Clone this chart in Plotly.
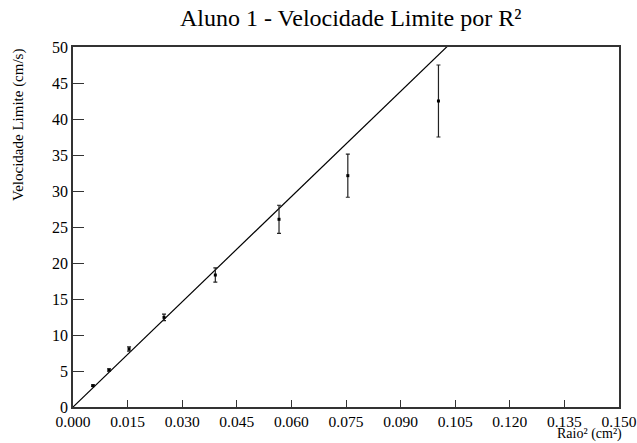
import plotly.graph_objects as go

# Data
raio2 = [0.0055, 0.0099, 0.0154, 0.0250, 0.0391, 0.0566, 0.0755, 0.1004]
velocidade = [2.96, 5.14, 8.06, 12.45, 18.33, 26.07, 32.13, 42.5]
erro = [0.1, 0.15, 0.3, 0.45, 1.0, 1.95, 3.0, 5.0]

# fitted line through origin
fit_slope = 487.1
fit_x = [0.0, 0.15]
fit_y = [fit_slope * v for v in fit_x]

x_ticks = [0.000, 0.015, 0.030, 0.045, 0.060, 0.075, 0.090, 0.105, 0.120, 0.135, 0.150]
x_ticklabels = ["%.3f" % v for v in x_ticks]
y_ticks = [0, 5, 10, 15, 20, 25, 30, 35, 40, 45, 50]

font_family = "Liberation Serif, Times New Roman, serif"

fig = go.Figure()
fig.add_trace(go.Scatter(
    x=fit_x, y=fit_y, mode="lines",
    line=dict(color="black", width=1.2), showlegend=False, hoverinfo="skip"))
fig.add_trace(go.Scatter(
    x=raio2, y=velocidade, mode="markers",
    marker=dict(symbol="square", size=3, color="black"),
    error_y=dict(type="data", array=erro, visible=True, color="#222222",
                 thickness=1.2, width=2),
    showlegend=False))

fig.update_layout(
    width=637, height=443,
    margin=dict(l=73, r=18, t=47, b=36, autoexpand=False),
    paper_bgcolor="white", plot_bgcolor="white",
    font=dict(family=font_family, color="black"),
    showlegend=False,
)
fig.update_xaxes(
    range=[0, 0.15], tickvals=x_ticks, ticktext=x_ticklabels,
    showgrid=False, zeroline=False, showline=True, linecolor="#333333",
    linewidth=1.5, mirror=True, ticks="inside", ticklen=7, tickcolor="#333333",
    automargin=False,
    tickfont=dict(family=font_family, size=15.5, color="black"))
fig.update_yaxes(
    range=[0, 50], tickvals=y_ticks,
    showgrid=False, zeroline=False, showline=True, linecolor="#333333",
    linewidth=1.5, mirror=True, ticks="inside", ticklen=11, tickcolor="#333333",
    automargin=False,
    tickfont=dict(family=font_family, size=16, color="black"))

fig.add_annotation(
    text="Aluno 1 - Velocidade Limite por R²", xref="paper", yref="paper",
    x=0.5, y=1, yshift=29, xshift=4, xanchor="center", yanchor="middle",
    showarrow=False, font=dict(family=font_family, size=24, color="black"))
fig.add_annotation(
    text="Velocidade Limite (cm/s)", xref="paper", yref="paper",
    x=0, y=1, xshift=-55, xanchor="center", yanchor="top", textangle=-90,
    showarrow=False, font=dict(family=font_family, size=15, color="black"))
fig.add_annotation(
    text="Raio² (cm²)", xref="paper", yref="paper",
    x=1, y=0, yshift=-27, xshift=5, xanchor="right", yanchor="middle",
    showarrow=False, font=dict(family=font_family, size=14, color="black"))

fig.write_html("out.html")
